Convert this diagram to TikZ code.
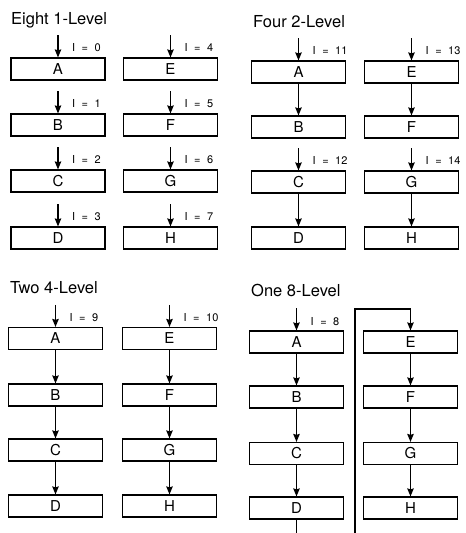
\documentclass[tikz,border=0pt]{standalone}
\usepackage{fontspec}
\setmainfont{TeX Gyre Heros}
\usetikzlibrary{arrows.meta,calc}
\newcommand{\ilab}[1]{I\hspace{6.5pt}=\hspace{6.5pt}#1}
\tikzset{
  blk/.style={draw, line width=1.2pt, minimum width=94pt, minimum height=22pt, inner sep=0pt, font=\fontsize{15}{15}\selectfont},
  arr/.style={-{Stealth[length=8pt,width=6.5pt,inset=1pt]}, line width=1.1pt},
  wire/.style={line width=1.1pt},
  lbl/.style={anchor=base west, font=\fontsize{11}{11}\selectfont, inner sep=0pt},
  ttl/.style={anchor=base west, font=\fontsize{16.5}{16.5}\selectfont, inner sep=0pt}
}
\begin{document}
\begin{tikzpicture}[x=1pt,y=-1pt]
\useasboundingbox (0,0) rectangle (466,533);
% ---------- Eight 1-Level ----------
\node[ttl] (t1) at (11,24) {Eight 1-Level};
\node[blk] (a1) at (58,69) {A};
\node[blk] (b1) at (58,125) {B};
\node[blk] (c1) at (58,181) {C};
\node[blk] (d1) at (58,238) {D};
\node[blk] (e1) at (170.5,69) {E};
\node[blk] (f1) at (170.5,125) {F};
\node[blk] (g1) at (170.5,181) {G};
\node[blk] (h1) at (170.5,238) {H};
\foreach \n/\v in {a1/0,b1/1,c1/2,d1/3,e1/4,f1/5,g1/6,h1/7}{
  \coordinate (\n-in) at ($(\n.north)+(0,-22)$);
  \draw[arr] (\n-in) -- (\n.north);
  \node[lbl] (\n-l) at ($(\n.north)+(14,-6)$) {\ilab{\v}};
}
% ---------- Four 2-Level ----------
\node[ttl] (t2) at (253,27) {Four 2-Level};
\node[blk] (a2) at (298.5,72) {A};
\node[blk] (b2) at (298.5,127) {B};
\node[blk] (c2) at (298.5,182) {C};
\node[blk] (d2) at (298.5,238) {D};
\node[blk] (e2) at (411.5,72) {E};
\node[blk] (f2) at (411.5,127) {F};
\node[blk] (g2) at (411.5,182) {G};
\node[blk] (h2) at (411.5,238) {H};
\foreach \n/\v in {a2/11,c2/12,e2/13,g2/14}{
  \coordinate (\n-in) at ($(\n.north)+(0,-22)$);
  \draw[arr] (\n-in) -- (\n.north);
  \node[lbl] (\n-l) at ($(\n.north)+(14,-6)$) {\ilab{\v}};
}
\draw[arr] (a2) -- (b2);
\draw[arr] (c2) -- (d2);
\draw[arr] (e2) -- (f2);
\draw[arr] (g2) -- (h2);
% ---------- Two 4-Level ----------
\node[ttl] (t3) at (10,293) {Two 4-Level};
\node[blk] (a3) at (55.5,338.5) {A};
\node[blk] (b3) at (55.5,395) {B};
\node[blk] (c3) at (55.5,450) {C};
\node[blk] (d3) at (55.5,506) {D};
\node[blk] (e3) at (169.5,338.5) {E};
\node[blk] (f3) at (169.5,395) {F};
\node[blk] (g3) at (169.5,450) {G};
\node[blk] (h3) at (169.5,506) {H};
\foreach \n/\v in {a3/9,e3/10}{
  \coordinate (\n-in) at ($(\n.north)+(0,-22)$);
  \draw[arr] (\n-in) -- (\n.north);
  \node[lbl] (\n-l) at ($(\n.north)+(14,-5)$) {\ilab{\v}};
}
\draw[arr] (a3) -- (b3);
\draw[arr] (b3) -- (c3);
\draw[arr] (c3) -- (d3);
\draw[arr] (e3) -- (f3);
\draw[arr] (f3) -- (g3);
\draw[arr] (g3) -- (h3);
% ---------- One 8-Level ----------
\node[ttl] (t4) at (251,296) {One 8-Level};
\node[blk] (a4) at (296.5,342) {A};
\node[blk] (b4) at (296.5,397) {B};
\node[blk] (c4) at (296.5,453.5) {C};
\node[blk] (d4) at (296.5,508) {D};
\node[blk] (e4) at (410.5,342) {E};
\node[blk] (f4) at (410.5,397) {F};
\node[blk] (g4) at (410.5,453.5) {G};
\node[blk] (h4) at (410.5,508) {H};
\coordinate (a4-in) at ($(a4.north)+(0,-22)$);
\draw[arr] (a4-in) -- (a4.north);
\node[lbl] (a4-l) at ($(a4.north)+(14,-5)$) {\ilab{8}};
\draw[arr] (a4) -- (b4);
\draw[arr] (b4) -- (c4);
\draw[arr] (c4) -- (d4);
\draw[arr] (e4) -- (f4);
\draw[arr] (f4) -- (g4);
\draw[arr] (g4) -- (h4);
\coordinate (w1) at (296.5,533);
\coordinate (w2) at (355,533);
\coordinate (w3) at (355,309);
\draw[wire] (d4.south) -- (w1);
\draw[arr] (w2) -- (w3) -| (e4.north);
\end{tikzpicture}
\end{document}
